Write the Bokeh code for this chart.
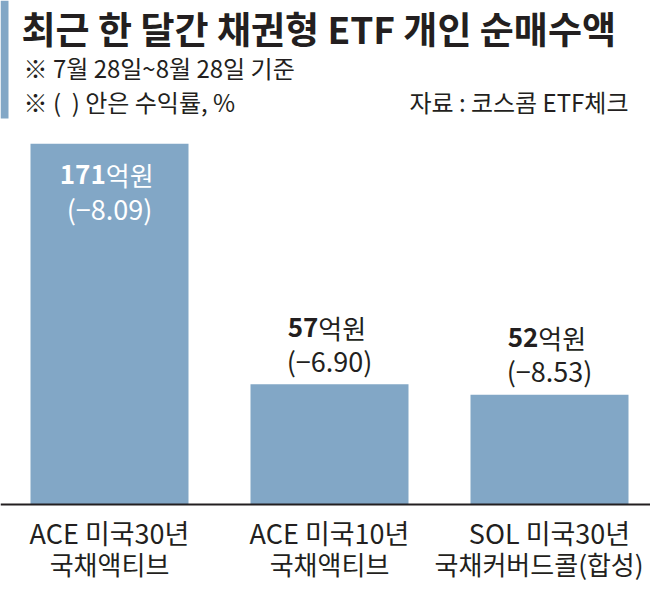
from bokeh.plotting import figure
from bokeh.models import Range1d, Label, BoxAnnotation, Span
from bokeh.embed import file_html
from bokeh.resources import INLINE
from bokeh.core.properties import value

# ---------------- data ----------------
etf_line1 = ["ACE 미국30년", "ACE 미국10년", "SOL 미국30년"]
etf_line2 = ["국채액티브", "국채액티브", "국채커버드콜(합성)"]
net_buy = [171, 57, 52]                     # 억원
returns_pct = ["−8.09", "−6.90", "−8.53"]   # %
unit = "억원"
title_text = "최근 한 달간 채권형 ETF 개인 순매수액"
note1 = "※ 7월 28일~8월 28일 기준"
note2 = "※ (\u00a0\u00a0) 안은 수익률, %"
source_text = "자료 : 코스콤 ETF체크"

# ---------------- geometry / style ----------------
W, H = 650, 583
PXU = 2.11          # pixels per 억원
STEP = 220          # pixels per category
FIRST_CENTER = 109  # x of first bar centre
AXIS_Y = 504        # y of baseline (from top)
BAR_COLOR = "#82a7c6"
INK = "#231f20"
FONT = "Noto Sans CJK KR"
CAT_FS = 26

x_start = -FIRST_CENTER / STEP
x_end = x_start + W / STEP
y_top = AXIS_Y / PXU
y_bottom = -(H - AXIS_Y) / PXU


def dx(px):
    return (px - FIRST_CENTER) / STEP


def dy(py):
    return (AXIS_Y - py) / PXU


def est_width(s, fs):
    w = 0.0
    for ch in s:
        w += 0.93 * fs if "\uac00" <= ch <= "\ud7a3" else 0.45 * fs
    return w


def clamp_x(x, s, fs):
    # keep a centred label inside the canvas
    right = FIRST_CENTER + x * STEP + est_width(s, fs) / 2
    over = max(0.0, right - (W - 3))
    return x - over / STEP


p = figure(width=W, height=H, output_backend="svg", toolbar_location=None,
           x_range=Range1d(x_start, x_end), y_range=Range1d(y_bottom, y_top),
           x_axis_location=None, y_axis_location=None,
           min_border_left=0, min_border_right=0, min_border_top=0, min_border_bottom=0)
p.outline_line_color = None
p.xgrid.visible = False
p.ygrid.visible = False
p.background_fill_color = "white"
p.border_fill_color = "white"

xs = list(range(len(net_buy)))
p.vbar(x=xs, top=net_buy, width=158 / STEP, fill_color=BAR_COLOR, line_color=None)

# baseline
p.add_layout(Span(location=0, dimension="width", line_color=INK, line_width=2))

# category labels (two lines)
x1 = [clamp_x(x, s, 27) for x, s in zip(xs, etf_line1)]
x2 = [clamp_x(x, s, CAT_FS) for x, s in zip(xs, etf_line2)]
p.text(x=x1, y=[dy(532)] * len(xs), text=etf_line1, text_align="center", text_baseline="middle",
       text_font=value(FONT), text_font_size="27px", text_color=INK)
p.text(x=x2, y=[dy(563)] * len(xs), text=etf_line2, text_align="center", text_baseline="middle",
       text_font=value(FONT), text_font_size=f"{CAT_FS}px", text_color=INK)

# value labels
inside = [v > 100 for v in net_buy]
num_y = [v - 31 / PXU if ins else v + 57 / PXU for v, ins in zip(net_buy, inside)]
ret_y = [v - 65 / PXU if ins else v + 24 / PXU for v, ins in zip(net_buy, inside)]
colors = ["white" if ins else INK for ins in inside]
num_txt = [str(v) for v in net_buy]
ret_txt = [f"({r})" for r in returns_pct]
DIGIT_W = 0.57 * 26
UNIT_W = 2 * 26
split_x = [x + ((len(t) * DIGIT_W) - UNIT_W) / 2 / STEP for x, t in zip(xs, num_txt)]

p.text(x=split_x, y=num_y, text=num_txt, text_align="right", text_baseline="middle",
       text_font=value(FONT), text_font_style="bold", text_font_size="26px", text_color=colors)
p.text(x=split_x, y=num_y, text=[unit] * len(xs), text_align="left", text_baseline="middle",
       text_font=value(FONT), text_font_style="normal", text_font_size="26px", text_color=colors)
p.text(x=xs, y=ret_y, text=ret_txt, text_align="center", text_baseline="middle",
       text_font=value(FONT), text_font_style="normal", text_font_size="27px", text_color=colors)

# header
p.add_layout(BoxAnnotation(left=x_start, right=dx(8), bottom=dy(118), top=y_top,
                           fill_color=BAR_COLOR, fill_alpha=1, line_color=None))
p.add_layout(Label(x=dx(21), y=dy(27), text=title_text, text_font=FONT, text_font_style="bold",
                   text_font_size="37px", text_baseline="middle", text_color=INK))
p.add_layout(Label(x=dx(23), y=dy(67), text=note1, text_font=FONT,
                   text_font_size="24px", text_baseline="middle", text_color=INK))
p.add_layout(Label(x=dx(23), y=dy(101), text=note2, text_font=FONT,
                   text_font_size="24px", text_baseline="middle", text_color=INK))
p.add_layout(Label(x=dx(628), y=dy(101), text=source_text, text_font=FONT, text_align="right",
                   text_font_size="24px", text_baseline="middle", text_color=INK))

open("out.html", "w").write(file_html(p, INLINE))
